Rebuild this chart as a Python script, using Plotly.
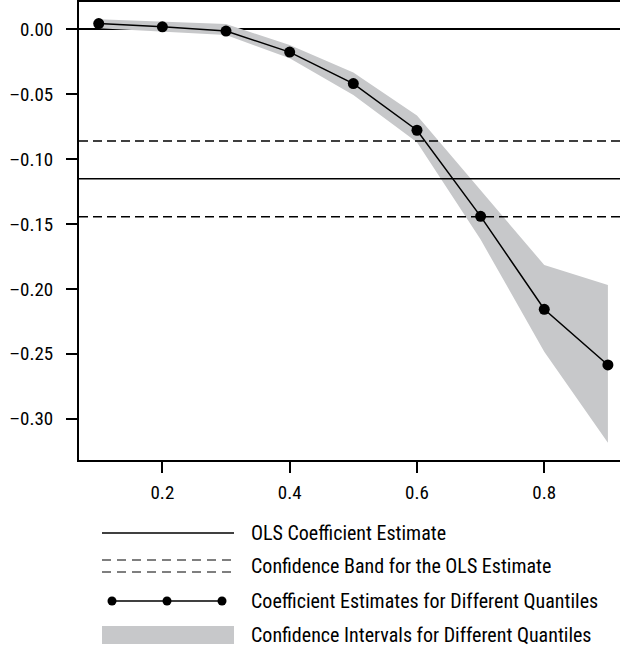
import plotly.graph_objects as go

# ---- data ----
quantiles = [0.1, 0.2, 0.3, 0.4, 0.5, 0.6, 0.7, 0.8, 0.9]
coef = [0.0044, 0.0019, -0.0014, -0.0176, -0.0418, -0.0778, -0.1441, -0.2157, -0.2586]
ci_upper = [0.0077, 0.0059, 0.0040, -0.0121, -0.0334, -0.0665, -0.1240, -0.1816, -0.1970]
ci_lower = [0.0008, -0.0018, -0.0044, -0.0223, -0.0506, -0.0870, -0.1620, -0.2484, -0.3185]
ols_estimate = -0.1151
ols_band = [-0.0861, -0.1444]
x_ticks = [0.2, 0.4, 0.6, 0.8]
y_ticks = [0.0, -0.05, -0.10, -0.15, -0.20, -0.25, -0.30]
legend_labels = [
    "OLS Coefficient Estimate",
    "Confidence Band for the OLS Estimate",
    "Coefficient Estimates for Different Quantiles",
    "Confidence Intervals for Different Quantiles",
]

FONT = "Liberation Sans Narrow, Arial Narrow, Roboto Condensed, Liberation Sans, sans-serif"
GREY = "#c7c8ca"

W, H = 620, 649
L, R, T, B = 79, 620, 2, 460


def px(xp):
    return (xp - L) / (R - L)


def py(yp):
    return (B - yp) / (B - T)


y_ticktext = [("\u2013" if v < 0 else "") + f"{abs(v):.2f}" for v in y_ticks]

fig = go.Figure()

# CI band
fig.add_trace(go.Scatter(x=quantiles, y=ci_upper, mode="lines", line=dict(width=0),
                         hoverinfo="skip", showlegend=False))
fig.add_trace(go.Scatter(x=quantiles, y=ci_lower, mode="lines", line=dict(width=0),
                         fill="tonexty", fillcolor=GREY, hoverinfo="skip", showlegend=False))

shapes = []
# OLS estimate + band
shapes.append(dict(type="line", xref="paper", yref="y", x0=0, x1=1, y0=ols_estimate, y1=ols_estimate,
                   line=dict(color="black", width=1.6)))
for v in ols_band:
    shapes.append(dict(type="line", xref="paper", yref="y", x0=0, x1=1, y0=v, y1=v,
                       line=dict(color="black", width=1.6, dash="9px,5px")))

# quantile estimates
fig.add_trace(go.Scatter(x=quantiles, y=coef, mode="lines+markers",
                         line=dict(color="black", width=1.5),
                         marker=dict(color="black", size=11),
                         showlegend=False))

# ---- custom legend ----
lx0, lx1 = 102, 234
rows = [533, 566, 601, 635]
shapes.append(dict(type="line", xref="paper", yref="paper", x0=px(lx0), x1=px(lx1),
                   y0=py(rows[0]), y1=py(rows[0]), line=dict(color="black", width=1.5)))
for dy in (-6, 6):
    shapes.append(dict(type="line", xref="paper", yref="paper", x0=px(lx0), x1=px(lx1),
                       y0=py(rows[1] + dy), y1=py(rows[1] + dy),
                       line=dict(color="black", width=1.2, dash="9px,6px")))
shapes.append(dict(type="line", xref="paper", yref="paper", x0=px(112), x1=px(222),
                   y0=py(rows[2]), y1=py(rows[2]), line=dict(color="black", width=1.5)))
for cx in (112, 167, 222):
    shapes.append(dict(type="circle", xref="paper", yref="paper", xsizemode="pixel", ysizemode="pixel",
                       xanchor=px(cx), yanchor=py(rows[2]), x0=-4.5, x1=4.5, y0=-4.5, y1=4.5,
                       fillcolor="black", line=dict(width=0)))
shapes.append(dict(type="rect", xref="paper", yref="paper", x0=px(lx0), x1=px(lx1),
                   y0=py(rows[3] + 9), y1=py(rows[3] - 9), fillcolor=GREY, line=dict(width=0)))

annotations = []
for r, lab in zip(rows, legend_labels):
    annotations.append(dict(text=lab, xref="paper", yref="paper", x=px(249), y=py(r),
                            xanchor="left", yanchor="middle", showarrow=False,
                            font=dict(family=FONT, size=20, color="black")))

fig.update_layout(
    width=W, height=H,
    margin=dict(l=L, r=W - R, t=T, b=H - B, pad=0),
    paper_bgcolor="white", plot_bgcolor="white",
    font=dict(family=FONT, size=19, color="black"),
    shapes=shapes, annotations=annotations,
    showlegend=False,
    xaxis=dict(range=[0.069, 0.919], tickvals=x_ticks, tickformat=".1f",
               showgrid=False, zeroline=False, showline=True, mirror=True,
               linecolor="black", linewidth=2, ticks="outside", ticklen=11,
               tickwidth=1.5, tickcolor="black", ticklabelstandoff=3),
    yaxis=dict(range=[-0.3318, 0.021], tickvals=y_ticks, ticktext=y_ticktext,
               showgrid=False, zeroline=True, zerolinecolor="black", zerolinewidth=1.6,
               showline=True, linecolor="black", linewidth=2, ticks="outside",
               ticklen=11, tickwidth=1.5, tickcolor="black", ticklabelstandoff=9),
)

fig.write_html("out.html")
